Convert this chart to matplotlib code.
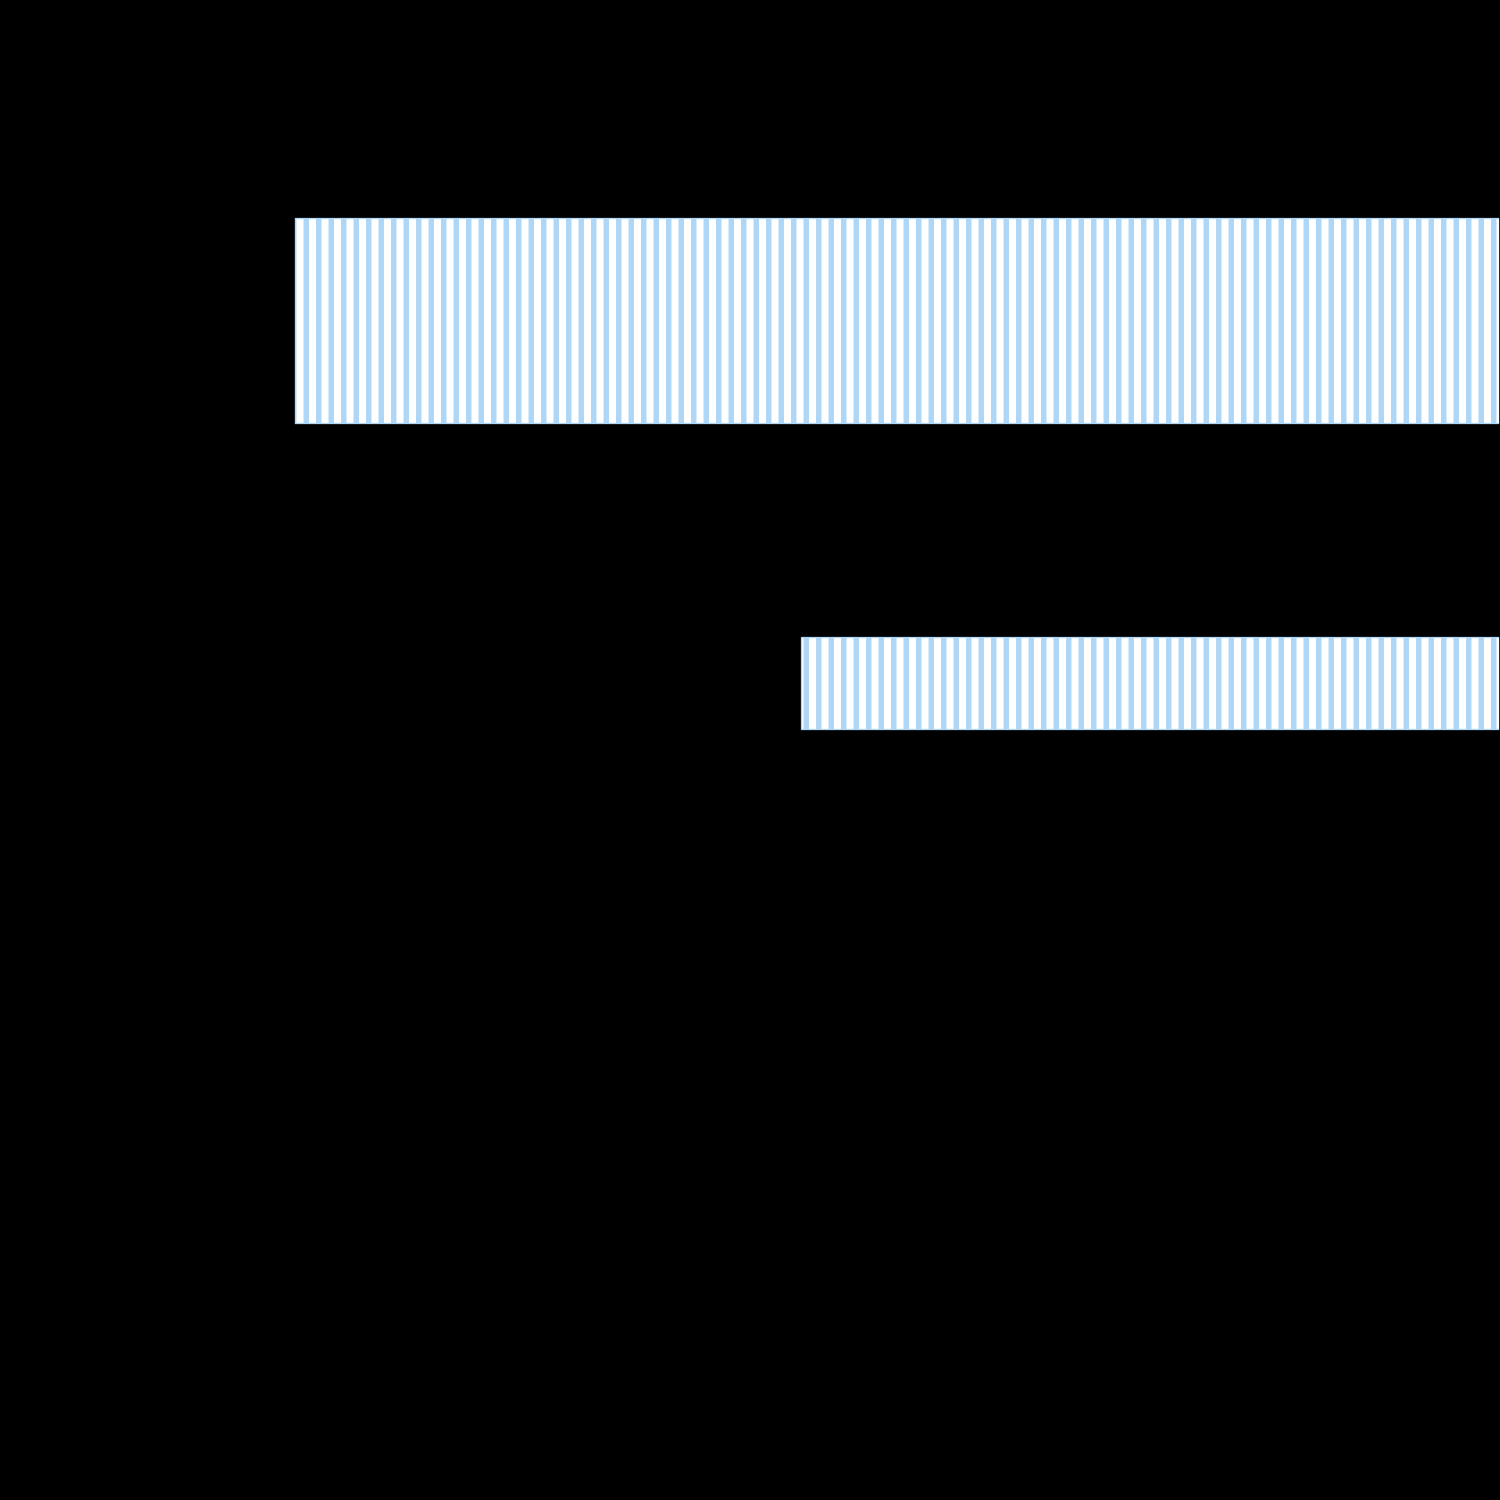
import matplotlib
matplotlib.use("Agg")
import matplotlib.pyplot as plt

# Data
categories = ["A", "B"]
starts = [0, 42]
widths = [120, 80]
heights = [0.566, 0.254]

bar_face = "#ffffff"
hatch_col = "#aed6f7"

plt.rcParams["hatch.linewidth"] = 2.6
plt.rcParams["hatch.color"] = hatch_col

fig = plt.figure(figsize=(10, 10), dpi=150, facecolor="black")
ax = fig.add_axes([0.196, 0.0, 0.804, 1.0])
ax.set_facecolor("black")

ax.barh(range(len(categories)), widths, left=starts, height=heights,
        color=bar_face, edgecolor=hatch_col, linewidth=0.6, hatch="||")

ax.set_xlim(0, 100)
ax.set_ylim(3.254, -0.884)
ax.set_yticks(range(len(categories)))
ax.set_yticklabels(categories, color="black")
ax.set_xticks([])
ax.tick_params(colors="black")
for s in ax.spines.values():
    s.set_color("black")

fig.savefig("out.png", dpi=150, facecolor="black")
